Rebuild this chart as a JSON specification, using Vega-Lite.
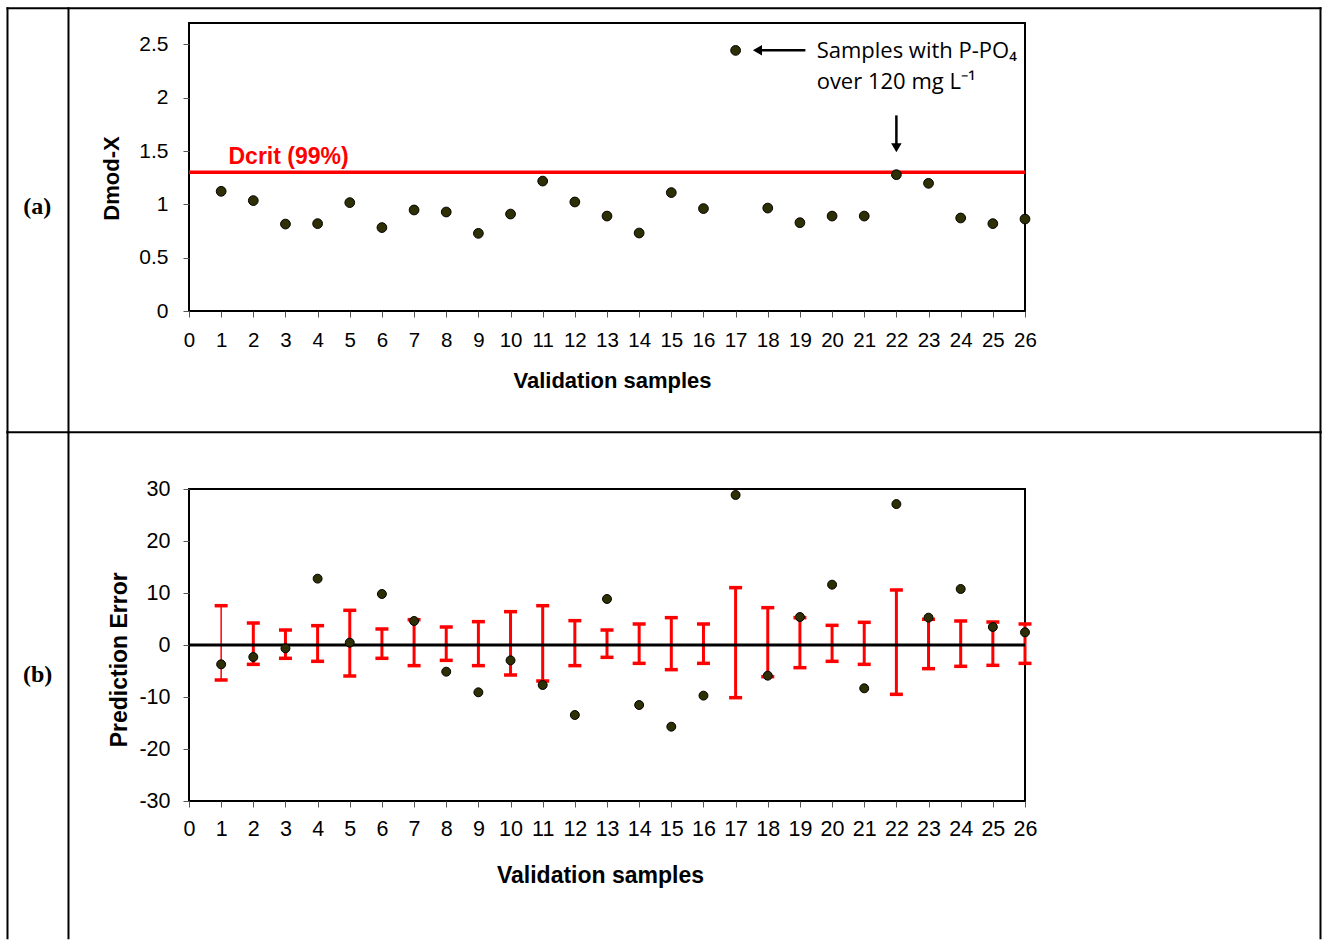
{
  "$schema": "https://vega.github.io/schema/vega-lite/v6.json",
  "padding": {"left": 5, "top": 5, "right": 0, "bottom": 0},
  "background": "white",
  "spacing": -6,
  "config": {
    "view": {"stroke": "#000", "strokeWidth": 2},
    "axis": {
      "domain": false, "grid": false, "ticks": true, "tickSize": 6, "tickColor": "#555", "tickWidth": 1,
      "labelFont": "Liberation Sans", "labelFontSize": 20, "labelColor": "#000",
      "titleFont": "Liberation Sans", "titleFontSize": 22, "titleFontWeight": "bold", "titleColor": "#000",
      "labelOverlap": false, "labelFlush": false
    }
  },
  "datasets": {
    "dmod": [
      {"sample": 1, "dmodx": 1.122}, {"sample": 2, "dmodx": 1.035}, {"sample": 3, "dmodx": 0.815},
      {"sample": 4, "dmodx": 0.819}, {"sample": 5, "dmodx": 1.016}, {"sample": 6, "dmodx": 0.782},
      {"sample": 7, "dmodx": 0.947}, {"sample": 8, "dmodx": 0.928}, {"sample": 9, "dmodx": 0.728},
      {"sample": 10, "dmodx": 0.909}, {"sample": 11, "dmodx": 1.218}, {"sample": 12, "dmodx": 1.022},
      {"sample": 13, "dmodx": 0.89}, {"sample": 14, "dmodx": 0.731}, {"sample": 15, "dmodx": 1.11},
      {"sample": 16, "dmodx": 0.96}, {"sample": 17, "dmodx": 2.443}, {"sample": 18, "dmodx": 0.965},
      {"sample": 19, "dmodx": 0.828}, {"sample": 20, "dmodx": 0.89}, {"sample": 21, "dmodx": 0.89},
      {"sample": 22, "dmodx": 1.278}, {"sample": 23, "dmodx": 1.197}, {"sample": 24, "dmodx": 0.872},
      {"sample": 25, "dmodx": 0.819}, {"sample": 26, "dmodx": 0.862}
    ],
    "pred": [
      {"sample": 1, "error": -3.72, "lo": -6.73, "hi": 7.56},
      {"sample": 2, "error": -2.31, "lo": -3.72, "hi": 4.23},
      {"sample": 3, "error": -0.64, "lo": -2.56, "hi": 2.88},
      {"sample": 4, "error": 12.76, "lo": -3.14, "hi": 3.72},
      {"sample": 5, "error": 0.45, "lo": -5.96, "hi": 6.67},
      {"sample": 6, "error": 9.81, "lo": -2.56, "hi": 3.08},
      {"sample": 7, "error": 4.62, "lo": -3.97, "hi": 4.87},
      {"sample": 8, "error": -5.13, "lo": -2.95, "hi": 3.46},
      {"sample": 9, "error": -9.1, "lo": -3.97, "hi": 4.49},
      {"sample": 10, "error": -2.95, "lo": -5.77, "hi": 6.41},
      {"sample": 11, "error": -7.69, "lo": -6.92, "hi": 7.56},
      {"sample": 12, "error": -13.46, "lo": -3.97, "hi": 4.68},
      {"sample": 13, "error": 8.85, "lo": -2.37, "hi": 2.88},
      {"sample": 14, "error": -11.54, "lo": -3.53, "hi": 4.04},
      {"sample": 15, "error": -15.71, "lo": -4.74, "hi": 5.26},
      {"sample": 16, "error": -9.74, "lo": -3.53, "hi": 4.04},
      {"sample": 17, "error": 28.85, "lo": -10.13, "hi": 11.03},
      {"sample": 18, "error": -5.9, "lo": -6.09, "hi": 7.18},
      {"sample": 19, "error": 5.38, "lo": -4.36, "hi": 5.26},
      {"sample": 20, "error": 11.6, "lo": -3.14, "hi": 3.78},
      {"sample": 21, "error": -8.33, "lo": -3.72, "hi": 4.36},
      {"sample": 22, "error": 27.1, "lo": -9.49, "hi": 10.58},
      {"sample": 23, "error": 5.26, "lo": -4.55, "hi": 4.94},
      {"sample": 24, "error": 10.77, "lo": -4.1, "hi": 4.62},
      {"sample": 25, "error": 3.46, "lo": -3.91, "hi": 4.42},
      {"sample": 26, "error": 2.44, "lo": -3.53, "hi": 4.04}
    ],
    "gridA": [
      {"x": -5.645, "x2": 35.19, "y": 2.838, "y2": 2.838},
      {"x": -5.645, "x2": -5.645, "y": 2.838, "y2": -1.137},
      {"x": -3.748, "x2": -3.748, "y": 2.838, "y2": -1.137},
      {"x": 35.19, "x2": 35.19, "y": 2.838, "y2": -1.137}
    ],
    "gridB": [
      {"x": -5.645, "x2": 35.19, "y": 40.9, "y2": 40.9},
      {"x": -5.645, "x2": -5.645, "y": 40.9, "y2": -56.4},
      {"x": -3.748, "x2": -3.748, "y": 40.9, "y2": -56.4},
      {"x": 35.19, "x2": 35.19, "y": 40.9, "y2": -56.4}
    ],
    "dcrit": [{"dcrit": 1.3}],
    "dcritLabel": [{"x": 1.228, "y": 1.382, "text": "Dcrit (99%)"}],
    "note": [
      {"x": 19.52, "y": 2.372, "text": "Samples with P-PO₄"},
      {"x": 19.52, "y": 2.085, "text": "over 120 mg L⁻¹"}
    ],
    "arrows": [
      {"x": 17.68, "x2": 19.17, "y": 2.444, "y2": 2.444},
      {"x": 22, "x2": 22, "y": 1.834, "y2": 1.535}
    ],
    "headLeft": [{"x": 17.68, "y": 2.444}],
    "headDown": [{"x": 22, "y": 1.53}],
    "panelA": [{"x": -4.72, "y": 0.972, "text": "(a)"}],
    "panelB": [{"x": -4.71, "y": -5.83, "text": "(b)"}],
    "zero": [{"zero": 0}]
  },
  "vconcat": [
    {
      "width": 836,
      "height": 288,
      "layer": [
        {
          "data": {"name": "gridA"},
          "mark": {"type": "rule", "clip": false, "color": "#000", "strokeWidth": 2, "strokeCap": "square"},
          "encoding": {
            "x": {"field": "x", "type": "quantitative", "scale": {"domain": [0, 26], "nice": false, "zero": false},
              "axis": {"values": [0,1,2,3,4,5,6,7,8,9,10,11,12,13,14,15,16,17,18,19,20,21,22,23,24,25,26], "labelExpr": "datum.value + ''", "labelFontSize": 20.5, "labelBaseline": "alphabetic", "labelPadding": 29, "title": "Validation samples", "titleX": 423, "titleY": 76.6, "titleBaseline": "alphabetic", "titleFontSize": 22}},
            "x2": {"field": "x2"},
            "y": {"field": "y", "type": "quantitative", "scale": {"domain": [0, 2.7], "nice": false, "zero": false},
              "axis": {"values": [0, 0.5, 1, 1.5, 2, 2.5], "labelExpr": "datum.value + ''", "labelFontSize": 21, "labelPadding": 15, "title": "Dmod-X", "titleX": -70.2, "titleY": 155, "titleBaseline": "alphabetic", "titleFontSize": 22}},
            "y2": {"field": "y2"}
          }
        },
        {
          "data": {"name": "panelA"},
          "mark": {"type": "text", "clip": false, "font": "Liberation Serif", "fontWeight": "bold", "fontSize": 24, "align": "center", "baseline": "middle", "color": "#000"},
          "encoding": {
            "x": {"field": "x", "type": "quantitative", "scale": {"domain": [0, 26], "nice": false, "zero": false},
              "axis": {"values": [0,1,2,3,4,5,6,7,8,9,10,11,12,13,14,15,16,17,18,19,20,21,22,23,24,25,26], "labelExpr": "datum.value + ''", "labelFontSize": 20.5, "labelBaseline": "alphabetic", "labelPadding": 29, "title": "Validation samples", "titleX": 423, "titleY": 76.6, "titleBaseline": "alphabetic", "titleFontSize": 22}},
            "y": {"field": "y", "type": "quantitative", "scale": {"domain": [0, 2.7], "nice": false, "zero": false},
              "axis": {"values": [0, 0.5, 1, 1.5, 2, 2.5], "labelExpr": "datum.value + ''", "labelFontSize": 21, "labelPadding": 15, "title": "Dmod-X", "titleX": -70.2, "titleY": 155, "titleBaseline": "alphabetic", "titleFontSize": 22}},
            "text": {"field": "text"}
          }
        },
        {
          "data": {"name": "dcrit"},
          "mark": {"type": "rule", "color": "#FF0000", "strokeWidth": 3.5},
          "encoding": {
            "y": {"field": "dcrit", "type": "quantitative", "scale": {"domain": [0, 2.7], "nice": false, "zero": false},
              "axis": {"values": [0, 0.5, 1, 1.5, 2, 2.5], "labelExpr": "datum.value + ''", "labelFontSize": 21, "labelPadding": 15, "title": "Dmod-X", "titleX": -70.2, "titleY": 155, "titleBaseline": "alphabetic", "titleFontSize": 22}}
          }
        },
        {
          "data": {"name": "dcritLabel"},
          "mark": {"type": "text", "font": "Liberation Sans", "fontWeight": "bold", "fontSize": 23, "align": "left", "baseline": "alphabetic", "color": "#FF0000"},
          "encoding": {
            "x": {"field": "x", "type": "quantitative", "scale": {"domain": [0, 26], "nice": false, "zero": false},
              "axis": {"values": [0,1,2,3,4,5,6,7,8,9,10,11,12,13,14,15,16,17,18,19,20,21,22,23,24,25,26], "labelExpr": "datum.value + ''", "labelFontSize": 20.5, "labelBaseline": "alphabetic", "labelPadding": 29, "title": "Validation samples", "titleX": 423, "titleY": 76.6, "titleBaseline": "alphabetic", "titleFontSize": 22}},
            "y": {"field": "y", "type": "quantitative", "scale": {"domain": [0, 2.7], "nice": false, "zero": false},
              "axis": {"values": [0, 0.5, 1, 1.5, 2, 2.5], "labelExpr": "datum.value + ''", "labelFontSize": 21, "labelPadding": 15, "title": "Dmod-X", "titleX": -70.2, "titleY": 155, "titleBaseline": "alphabetic", "titleFontSize": 22}},
            "text": {"field": "text"}
          }
        },
        {
          "data": {"name": "note"},
          "mark": {"type": "text", "font": "Open Sans", "fontSize": 22, "align": "left", "baseline": "alphabetic", "color": "#000"},
          "encoding": {
            "x": {"field": "x", "type": "quantitative", "scale": {"domain": [0, 26], "nice": false, "zero": false},
              "axis": {"values": [0,1,2,3,4,5,6,7,8,9,10,11,12,13,14,15,16,17,18,19,20,21,22,23,24,25,26], "labelExpr": "datum.value + ''", "labelFontSize": 20.5, "labelBaseline": "alphabetic", "labelPadding": 29, "title": "Validation samples", "titleX": 423, "titleY": 76.6, "titleBaseline": "alphabetic", "titleFontSize": 22}},
            "y": {"field": "y", "type": "quantitative", "scale": {"domain": [0, 2.7], "nice": false, "zero": false},
              "axis": {"values": [0, 0.5, 1, 1.5, 2, 2.5], "labelExpr": "datum.value + ''", "labelFontSize": 21, "labelPadding": 15, "title": "Dmod-X", "titleX": -70.2, "titleY": 155, "titleBaseline": "alphabetic", "titleFontSize": 22}},
            "text": {"field": "text"}
          }
        },
        {
          "data": {"name": "arrows"},
          "mark": {"type": "rule", "color": "#000", "strokeWidth": 2.5},
          "encoding": {
            "x": {"field": "x", "type": "quantitative", "scale": {"domain": [0, 26], "nice": false, "zero": false},
              "axis": {"values": [0,1,2,3,4,5,6,7,8,9,10,11,12,13,14,15,16,17,18,19,20,21,22,23,24,25,26], "labelExpr": "datum.value + ''", "labelFontSize": 20.5, "labelBaseline": "alphabetic", "labelPadding": 29, "title": "Validation samples", "titleX": 423, "titleY": 76.6, "titleBaseline": "alphabetic", "titleFontSize": 22}},
            "x2": {"field": "x2"},
            "y": {"field": "y", "type": "quantitative", "scale": {"domain": [0, 2.7], "nice": false, "zero": false},
              "axis": {"values": [0, 0.5, 1, 1.5, 2, 2.5], "labelExpr": "datum.value + ''", "labelFontSize": 21, "labelPadding": 15, "title": "Dmod-X", "titleX": -70.2, "titleY": 155, "titleBaseline": "alphabetic", "titleFontSize": 22}},
            "y2": {"field": "y2"}
          }
        },
        {
          "data": {"name": "headLeft"},
          "mark": {"type": "point", "shape": "triangle-left", "filled": true, "color": "#000", "size": 110, "opacity": 1},
          "encoding": {
            "x": {"field": "x", "type": "quantitative", "scale": {"domain": [0, 26], "nice": false, "zero": false},
              "axis": {"values": [0,1,2,3,4,5,6,7,8,9,10,11,12,13,14,15,16,17,18,19,20,21,22,23,24,25,26], "labelExpr": "datum.value + ''", "labelFontSize": 20.5, "labelBaseline": "alphabetic", "labelPadding": 29, "title": "Validation samples", "titleX": 423, "titleY": 76.6, "titleBaseline": "alphabetic", "titleFontSize": 22}},
            "y": {"field": "y", "type": "quantitative", "scale": {"domain": [0, 2.7], "nice": false, "zero": false},
              "axis": {"values": [0, 0.5, 1, 1.5, 2, 2.5], "labelExpr": "datum.value + ''", "labelFontSize": 21, "labelPadding": 15, "title": "Dmod-X", "titleX": -70.2, "titleY": 155, "titleBaseline": "alphabetic", "titleFontSize": 22}}
          }
        },
        {
          "data": {"name": "headDown"},
          "mark": {"type": "point", "shape": "triangle-down", "filled": true, "color": "#000", "size": 110, "opacity": 1},
          "encoding": {
            "x": {"field": "x", "type": "quantitative", "scale": {"domain": [0, 26], "nice": false, "zero": false},
              "axis": {"values": [0,1,2,3,4,5,6,7,8,9,10,11,12,13,14,15,16,17,18,19,20,21,22,23,24,25,26], "labelExpr": "datum.value + ''", "labelFontSize": 20.5, "labelBaseline": "alphabetic", "labelPadding": 29, "title": "Validation samples", "titleX": 423, "titleY": 76.6, "titleBaseline": "alphabetic", "titleFontSize": 22}},
            "y": {"field": "y", "type": "quantitative", "scale": {"domain": [0, 2.7], "nice": false, "zero": false},
              "axis": {"values": [0, 0.5, 1, 1.5, 2, 2.5], "labelExpr": "datum.value + ''", "labelFontSize": 21, "labelPadding": 15, "title": "Dmod-X", "titleX": -70.2, "titleY": 155, "titleBaseline": "alphabetic", "titleFontSize": 22}}
          }
        },
        {
          "data": {"name": "dmod"},
          "mark": {"type": "circle", "fill": "#2f2f05", "stroke": "#000", "strokeWidth": 1, "size": 95, "opacity": 1},
          "encoding": {
            "x": {"field": "sample", "type": "quantitative", "scale": {"domain": [0, 26], "nice": false, "zero": false},
              "axis": {"values": [0,1,2,3,4,5,6,7,8,9,10,11,12,13,14,15,16,17,18,19,20,21,22,23,24,25,26], "labelExpr": "datum.value + ''", "labelFontSize": 20.5, "labelBaseline": "alphabetic", "labelPadding": 29, "title": "Validation samples", "titleX": 423, "titleY": 76.6, "titleBaseline": "alphabetic", "titleFontSize": 22}},
            "y": {"field": "dmodx", "type": "quantitative", "scale": {"domain": [0, 2.7], "nice": false, "zero": false},
              "axis": {"values": [0, 0.5, 1, 1.5, 2, 2.5], "labelExpr": "datum.value + ''", "labelFontSize": 21, "labelPadding": 15, "title": "Dmod-X", "titleX": -70.2, "titleY": 155, "titleBaseline": "alphabetic", "titleFontSize": 22}}
          }
        }
      ]
    },
    {
      "width": 836,
      "height": 312,
      "layer": [
        {
          "data": {"name": "gridB"},
          "mark": {"type": "rule", "clip": false, "color": "#000", "strokeWidth": 2, "strokeCap": "square"},
          "encoding": {
            "x": {"field": "x", "type": "quantitative", "scale": {"domain": [0, 26], "nice": false, "zero": false},
              "axis": {"values": [0,1,2,3,4,5,6,7,8,9,10,11,12,13,14,15,16,17,18,19,20,21,22,23,24,25,26], "labelExpr": "datum.value + ''", "labelFontSize": 21.5, "labelBaseline": "alphabetic", "labelPadding": 28, "title": "Validation samples", "titleX": 411, "titleY": 81, "titleBaseline": "alphabetic", "titleFontSize": 23}},
            "x2": {"field": "x2"},
            "y": {"field": "y", "type": "quantitative", "scale": {"domain": [-30, 30], "nice": false, "zero": false},
              "axis": {"values": [-30, -20, -10, 0, 10, 20, 30], "labelExpr": "datum.value + ''", "labelFontSize": 21.5, "labelPadding": 13, "title": "Prediction Error", "titleX": -62.8, "titleY": 170.3, "titleBaseline": "alphabetic", "titleFontSize": 23}},
            "y2": {"field": "y2"}
          }
        },
        {
          "data": {"name": "panelB"},
          "mark": {"type": "text", "clip": false, "font": "Liberation Serif", "fontWeight": "bold", "fontSize": 24, "align": "center", "baseline": "middle", "color": "#000"},
          "encoding": {
            "x": {"field": "x", "type": "quantitative", "scale": {"domain": [0, 26], "nice": false, "zero": false},
              "axis": {"values": [0,1,2,3,4,5,6,7,8,9,10,11,12,13,14,15,16,17,18,19,20,21,22,23,24,25,26], "labelExpr": "datum.value + ''", "labelFontSize": 21.5, "labelBaseline": "alphabetic", "labelPadding": 28, "title": "Validation samples", "titleX": 411, "titleY": 81, "titleBaseline": "alphabetic", "titleFontSize": 23}},
            "y": {"field": "y", "type": "quantitative", "scale": {"domain": [-30, 30], "nice": false, "zero": false},
              "axis": {"values": [-30, -20, -10, 0, 10, 20, 30], "labelExpr": "datum.value + ''", "labelFontSize": 21.5, "labelPadding": 13, "title": "Prediction Error", "titleX": -62.8, "titleY": 170.3, "titleBaseline": "alphabetic", "titleFontSize": 23}},
            "text": {"field": "text"}
          }
        },
        {
          "data": {"name": "pred"},
          "mark": {"type": "rule", "color": "#FF0000"},
          "encoding": {
            "x": {"field": "sample", "type": "quantitative", "scale": {"domain": [0, 26], "nice": false, "zero": false},
              "axis": {"values": [0,1,2,3,4,5,6,7,8,9,10,11,12,13,14,15,16,17,18,19,20,21,22,23,24,25,26], "labelExpr": "datum.value + ''", "labelFontSize": 21.5, "labelBaseline": "alphabetic", "labelPadding": 28, "title": "Validation samples", "titleX": 411, "titleY": 81, "titleBaseline": "alphabetic", "titleFontSize": 23}},
            "y": {"field": "lo", "type": "quantitative", "scale": {"domain": [-30, 30], "nice": false, "zero": false},
              "axis": {"values": [-30, -20, -10, 0, 10, 20, 30], "labelExpr": "datum.value + ''", "labelFontSize": 21.5, "labelPadding": 13, "title": "Prediction Error", "titleX": -62.8, "titleY": 170.3, "titleBaseline": "alphabetic", "titleFontSize": 23}},
            "y2": {"field": "hi"},
            "strokeWidth": {"condition": {"test": "datum.sample === 1", "value": 1.5}, "value": 3}
          }
        },
        {
          "data": {"name": "pred"},
          "mark": {"type": "tick", "orient": "horizontal", "color": "#FF0000", "size": 13, "thickness": 3.5, "opacity": 1},
          "encoding": {
            "x": {"field": "sample", "type": "quantitative", "scale": {"domain": [0, 26], "nice": false, "zero": false},
              "axis": {"values": [0,1,2,3,4,5,6,7,8,9,10,11,12,13,14,15,16,17,18,19,20,21,22,23,24,25,26], "labelExpr": "datum.value + ''", "labelFontSize": 21.5, "labelBaseline": "alphabetic", "labelPadding": 28, "title": "Validation samples", "titleX": 411, "titleY": 81, "titleBaseline": "alphabetic", "titleFontSize": 23}},
            "y": {"field": "lo", "type": "quantitative", "scale": {"domain": [-30, 30], "nice": false, "zero": false},
              "axis": {"values": [-30, -20, -10, 0, 10, 20, 30], "labelExpr": "datum.value + ''", "labelFontSize": 21.5, "labelPadding": 13, "title": "Prediction Error", "titleX": -62.8, "titleY": 170.3, "titleBaseline": "alphabetic", "titleFontSize": 23}}
          }
        },
        {
          "data": {"name": "pred"},
          "mark": {"type": "tick", "orient": "horizontal", "color": "#FF0000", "size": 13, "thickness": 3.5, "opacity": 1},
          "encoding": {
            "x": {"field": "sample", "type": "quantitative", "scale": {"domain": [0, 26], "nice": false, "zero": false},
              "axis": {"values": [0,1,2,3,4,5,6,7,8,9,10,11,12,13,14,15,16,17,18,19,20,21,22,23,24,25,26], "labelExpr": "datum.value + ''", "labelFontSize": 21.5, "labelBaseline": "alphabetic", "labelPadding": 28, "title": "Validation samples", "titleX": 411, "titleY": 81, "titleBaseline": "alphabetic", "titleFontSize": 23}},
            "y": {"field": "hi", "type": "quantitative", "scale": {"domain": [-30, 30], "nice": false, "zero": false},
              "axis": {"values": [-30, -20, -10, 0, 10, 20, 30], "labelExpr": "datum.value + ''", "labelFontSize": 21.5, "labelPadding": 13, "title": "Prediction Error", "titleX": -62.8, "titleY": 170.3, "titleBaseline": "alphabetic", "titleFontSize": 23}}
          }
        },
        {
          "data": {"name": "zero"},
          "mark": {"type": "rule", "color": "#000", "strokeWidth": 3},
          "encoding": {
            "y": {"field": "zero", "type": "quantitative", "scale": {"domain": [-30, 30], "nice": false, "zero": false},
              "axis": {"values": [-30, -20, -10, 0, 10, 20, 30], "labelExpr": "datum.value + ''", "labelFontSize": 21.5, "labelPadding": 13, "title": "Prediction Error", "titleX": -62.8, "titleY": 170.3, "titleBaseline": "alphabetic", "titleFontSize": 23}}
          }
        },
        {
          "data": {"name": "pred"},
          "mark": {"type": "circle", "fill": "#2f2f05", "stroke": "#000", "strokeWidth": 1, "size": 80, "opacity": 1},
          "encoding": {
            "x": {"field": "sample", "type": "quantitative", "scale": {"domain": [0, 26], "nice": false, "zero": false},
              "axis": {"values": [0,1,2,3,4,5,6,7,8,9,10,11,12,13,14,15,16,17,18,19,20,21,22,23,24,25,26], "labelExpr": "datum.value + ''", "labelFontSize": 21.5, "labelBaseline": "alphabetic", "labelPadding": 28, "title": "Validation samples", "titleX": 411, "titleY": 81, "titleBaseline": "alphabetic", "titleFontSize": 23}},
            "y": {"field": "error", "type": "quantitative", "scale": {"domain": [-30, 30], "nice": false, "zero": false},
              "axis": {"values": [-30, -20, -10, 0, 10, 20, 30], "labelExpr": "datum.value + ''", "labelFontSize": 21.5, "labelPadding": 13, "title": "Prediction Error", "titleX": -62.8, "titleY": 170.3, "titleBaseline": "alphabetic", "titleFontSize": 23}}
          }
        }
      ]
    }
  ]
}
